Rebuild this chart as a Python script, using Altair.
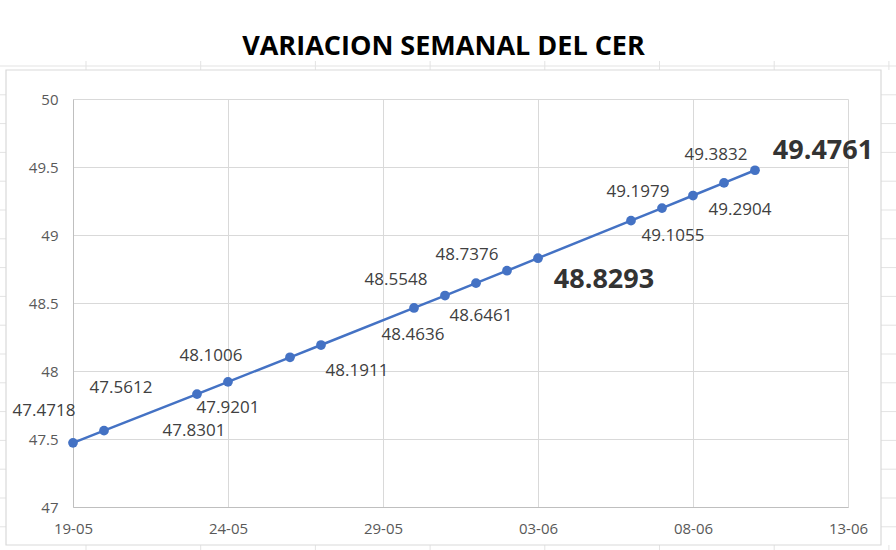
import altair as alt
import pandas as pd

# ---- data ----
dates = ["2022-05-19", "2022-05-20", "2022-05-23", "2022-05-24", "2022-05-26",
         "2022-05-27", "2022-05-30", "2022-05-31", "2022-06-01", "2022-06-02",
         "2022-06-03", "2022-06-06", "2022-06-07", "2022-06-08", "2022-06-09",
         "2022-06-10"]
cer = [47.4718, 47.5612, 47.8301, 47.9201, 48.1006,
       48.1911, 48.4636, 48.5548, 48.6461, 48.7376,
       48.8293, 49.1055, 49.1979, 49.2904, 49.3832,
       49.4761]
labels = ["47.4718", "47.5612", "47.8301", "47.9201", "48.1006",
          "48.1911", "48.4636", "48.5548", "48.6461", "48.7376",
          "48.8293", "49.1055", "49.1979", "49.2904", "49.3832",
          "49.4761"]
highlight = [False] * 10 + [True] + [False] * 4 + [True]
title_text = "VARIACION SEMANAL DEL CER"
x_ticks = [(2022, 5, 19), (2022, 5, 24), (2022, 5, 29), (2022, 6, 3),
           (2022, 6, 8), (2022, 6, 13)]
y_ticks = [47, 47.5, 48, 48.5, 49, 49.5, 50]

# ---- label placement (pixel offsets from each point; style only) ----
label_dx = [-29, 17, -3, 0, -79, 36, -1, -49, 5, -40, 66, 42, -24, 47, -8, 68]
label_dy = [-32, -43, 37, 26, -1, 26, 27, -16, 33, -16, 22, 15, -16, 14, -28, -19]

df = pd.DataFrame({"fecha": dates, "cer": cer, "label": labels,
                   "bold": highlight, "idx": list(range(len(dates)))})

# ---- layout ----
PL, PT, PR, PB = 73, 99, 48, 43
W, H = 896 - PL - PR, 550 - PT - PB

LINE = "#4472C4"
GRID = "#d9d9d9"
FONT = "Open Sans"

xdt = [alt.DateTime(year=y, month=m, date=d, utc=True) for (y, m, d) in x_ticks]
xscale = alt.Scale(type="utc", domain=[xdt[0], xdt[-1]], nice=False)
yscale = alt.Scale(domain=[47, 50], nice=False, zero=False)

base = alt.Chart(df)
X = alt.X("fecha:T", scale=xscale,
          axis=alt.Axis(values=xdt, labelExpr="utcFormat(datum.value, '%d-%m')",
                        title=None, grid=True, gridColor=GRID, ticks=False,
                        labelFlush=False, labelOverlap=False,
                        domainColor="#bfbfbf", labelFont=FONT, labelFontSize=15,
                        labelColor="#595959", labelPadding=14))
Y = alt.Y("cer:Q", scale=yscale,
          axis=alt.Axis(values=y_ticks, format="~g", title=None, grid=True,
                        gridColor=GRID, ticks=False, domainColor="#bfbfbf",
                        labelFlush=False, labelOverlap=False,
                        labelFont=FONT, labelFontSize=15, labelColor="#595959",
                        labelPadding=15))

line = base.mark_line(color=LINE, strokeWidth=2.5).encode(x=X, y=Y)
pts = base.mark_point(filled=True, color=LINE, size=95, opacity=1).encode(x=X, y=Y)

text_layers = []
for i in range(len(dates)):
    if highlight[i]:
        mk = dict(font=FONT, fontSize=27, fontWeight="bold", color="#333333")
    else:
        mk = dict(font=FONT, fontSize=17, color="#404040")
    t = base.transform_filter(f"datum.idx == {i}").mark_text(
        dx=label_dx[i], dy=label_dy[i], **mk).encode(x=X, y=Y, text="label:N")
    text_layers.append(t)

data_layer = alt.layer(line, pts, *text_layers)

one = alt.Chart(pd.DataFrame({"t": [title_text]}))

border = one.mark_rect(fillOpacity=0, stroke=GRID, strokeWidth=1.2).encode(
    x=alt.value(6 - PL), x2=alt.value(881 - PL),
    y=alt.value(70 - PT), y2=alt.value(545 - PT),
)

title = one.mark_text(font=FONT, fontSize=27, fontWeight="bold", color="#000000",
                      baseline="alphabetic", align="center").encode(
    text="t:N", x=alt.value(443.5 - PL), y=alt.value(55 - PT),
)

# faint spreadsheet cell grid visible around the chart object
cols = [86 + 114.7 * i for i in range(8)]
rows = [66 + 28.8 * i for i in range(17)]
seg = [(0, 896, 66, 66)]
for c in cols:
    seg.append((c, c, 61, 70))
    seg.append((c, c, 545, 550))
for r in rows[1:]:
    seg.append((881, 896, r, r))
    seg.append((0, 6, r, r))
segdf = pd.DataFrame(seg, columns=["x1", "x2", "y1", "y2"])
segdf[["x1", "x2"]] = segdf[["x1", "x2"]] - PL
segdf[["y1", "y2"]] = segdf[["y1", "y2"]] - PT

cells = alt.Chart(segdf).mark_rule(color="#e3e3e3", strokeWidth=1).encode(
    x=alt.X("x1:Q", scale=None, axis=None),
    x2="x2:Q",
    y=alt.Y("y1:Q", scale=None, axis=None),
    y2="y2:Q",
)

deco = alt.layer(cells, border, title)

chart = alt.layer(deco, data_layer).resolve_scale(
    x="independent", y="independent"
).properties(
    width=W, height=H,
    autosize=alt.AutoSizeParams(type="none"),
    padding={"left": PL, "top": PT, "right": PR, "bottom": PB},
    background="white",
).configure_view(stroke=None)

chart.save("out.html", embed_options={"renderer": "svg", "actions": False})
